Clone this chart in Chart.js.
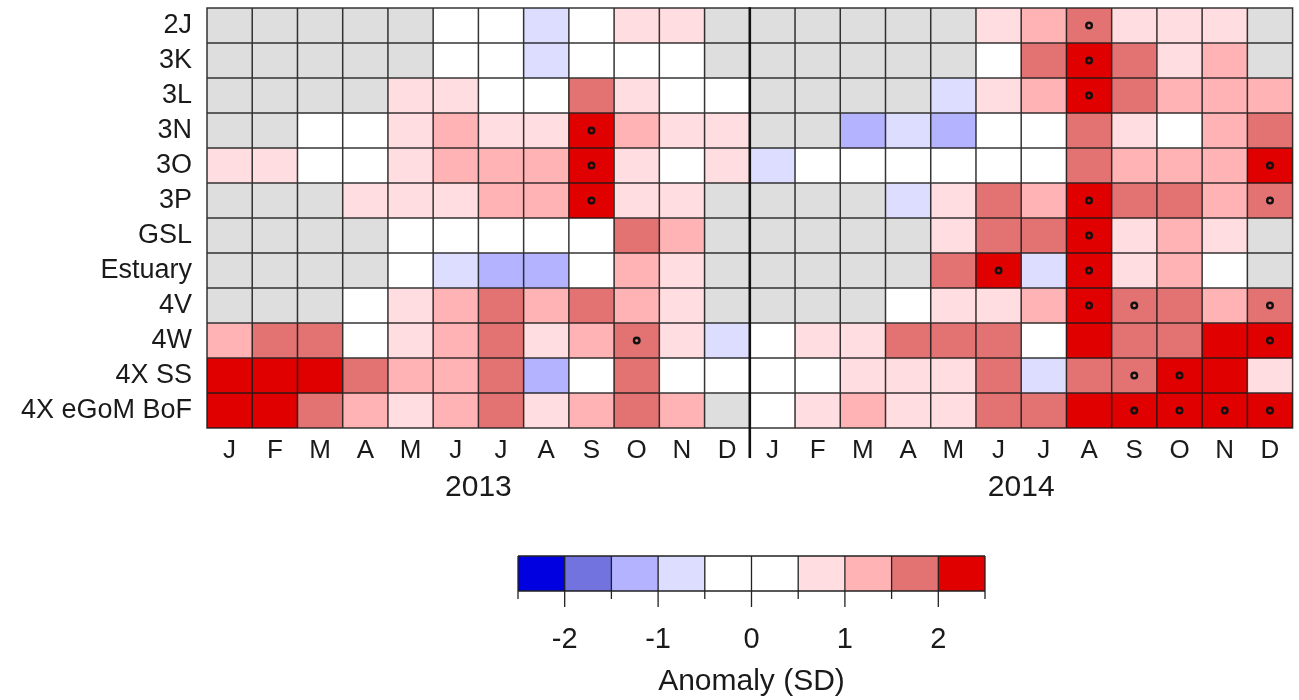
<!DOCTYPE html>
<html>
<head>
<meta charset="utf-8">
<script src="https://cdn.jsdelivr.net/npm/chart.js@4.4.1/dist/chart.umd.min.js"></script>
<style>
  html, body { margin: 0; padding: 0; background: #ffffff; }
  #wrap { position: relative; width: 1299px; height: 700px; overflow: hidden; }
  #heat { position: absolute; left: 0; top: 0; }
  #scaleBar { position: absolute; left: 0; top: 540px; }
</style>
</head>
<body>
<div id="wrap">
  <canvas id="heat" width="1299" height="700"></canvas>
  <canvas id="scaleBar" width="1299" height="160"></canvas>
</div>
<script>
// Monthly anomalies (in standard deviations), January 2013 to December 2014.
// null marks a month without data.
const N = null;
const regions = ['2J', '3K', '3L', '3N', '3O', '3P', 'GSL', 'Estuary', '4V', '4W', '4X SS', '4X eGoM BoF'];
const years = ['2013', '2014'];
const months = ['J', 'F', 'M', 'A', 'M', 'J', 'J', 'A', 'S', 'O', 'N', 'D'];

const r2J      = [N, N, N, N, N, 0, 0, -0.75, 0, 0.75, 0.75, N,   N, N, N, N, N, 0.75, 1.25, 1.75, 0.75, 0.75, 0.75, N];
const r3K      = [N, N, N, N, N, 0, 0, -0.75, 0, 0, 0, N,   N, N, N, N, N, 0, 1.75, 2.25, 1.75, 0.75, 1.25, N];
const r3L      = [N, N, N, N, 0.75, 0.75, 0, 0, 1.75, 0.75, 0, 0,   N, N, N, N, -0.75, 0.75, 1.25, 2.25, 1.75, 1.25, 1.25, 1.25];
const r3N      = [N, N, 0, 0, 0.75, 1.25, 0.75, 0.75, 2.25, 1.25, 0.75, 0.75,   N, N, -1.25, -0.75, -1.25, 0, 0, 1.75, 0.75, 0, 1.25, 1.75];
const r3O      = [0.75, 0.75, 0, 0, 0.75, 1.25, 1.25, 1.25, 2.25, 0.75, 0, 0.75,   -0.75, 0, 0, 0, 0, 0, 0, 1.75, 1.25, 1.25, 1.25, 2.25];
const r3P      = [N, N, N, 0.75, 0.75, 0.75, 1.25, 1.25, 2.25, 0.75, 0.75, N,   N, N, N, -0.75, 0.75, 1.75, 1.25, 2.25, 1.75, 1.75, 1.25, 1.75];
const rGSL     = [N, N, N, N, 0, 0, 0, 0, 0, 1.75, 1.25, N,   N, N, N, N, 0.75, 1.75, 1.75, 2.25, 0.75, 1.25, 0.75, N];
const rEstuary = [N, N, N, N, 0, -0.75, -1.25, -1.25, 0, 1.25, 0.75, N,   N, N, N, N, 1.75, 2.25, -0.75, 2.25, 0.75, 1.25, 0, N];
const r4V      = [N, N, N, 0, 0.75, 1.25, 1.75, 1.25, 1.75, 1.25, 0.75, N,   N, N, N, 0, 0.75, 0.75, 1.25, 2.25, 1.75, 1.75, 1.25, 1.75];
const r4W      = [1.25, 1.75, 1.75, 0, 0.75, 1.25, 1.75, 0.75, 1.25, 1.75, 0.75, -0.75,   0, 0.75, 0.75, 1.75, 1.75, 1.75, 0, 2.25, 1.75, 1.75, 2.25, 2.25];
const r4XSS    = [2.25, 2.25, 2.25, 1.75, 1.25, 1.25, 1.75, -1.25, 0, 1.75, 0, 0,   0, 0, 0.75, 0.75, 0.75, 1.75, -0.75, 1.75, 1.75, 2.25, 2.25, 0.75];
const r4XeGoM  = [2.25, 2.25, 1.75, 1.25, 0.75, 1.25, 1.75, 0.75, 1.25, 1.75, 1.25, N,   0, 0.75, 1.25, 0.75, 0.75, 1.75, 1.75, 2.25, 2.25, 2.25, 2.25, 2.25];

// Significant months: [region, month index 0..23]
const significant = [
  ['2J', 19], ['3K', 19], ['3L', 19], ['3N', 8], ['3O', 8], ['3O', 23],
  ['3P', 8], ['3P', 19], ['3P', 23], ['GSL', 19], ['Estuary', 17], ['Estuary', 19],
  ['4V', 19], ['4V', 20], ['4V', 23], ['4W', 9], ['4W', 23], ['4X SS', 20], ['4X SS', 21],
  ['4X eGoM BoF', 20], ['4X eGoM BoF', 21], ['4X eGoM BoF', 22], ['4X eGoM BoF', 23]
];

// Colour classes of the anomaly scale
const binEdges = [-2.5, -2, -1.5, -1, -0.5, 0, 0.5, 1, 1.5, 2, 2.5];
const binColors = ['#0000E0', '#7373E0', '#B3B3FF', '#DDDDFF', '#FFFFFF', '#FFFFFF', '#FFDDE0', '#FFB3B5', '#E37373', '#E00000'];
const scaleTicks = [-2, -1, 0, 1, 2];
const missingColor = '#DEDEDE';

const rows = [r2J, r3K, r3L, r3N, r3O, r3P, rGSL, rEstuary, r4V, r4W, r4XSS, r4XeGoM];
const FONT = "'Liberation Sans', Arial, Helvetica, sans-serif";
const INK = '#1a1a1a';

function colorFor(v) {
  if (v === null) return missingColor;
  let k = Math.floor((v - binEdges[0]) / 0.5);
  k = Math.max(0, Math.min(binColors.length - 1, k));
  return binColors[k];
}

// unique category keys, one per month of each year
const categories = years.flatMap(y => months.map((m, i) => y + '-' + (i + 1)));

const cellSets = rows.map((vals, ri) => ({
  type: 'bar',
  label: regions[ri],
  data: categories.map(() => [ri, ri + 1]),
  backgroundColor: vals.map(colorFor),
  borderWidth: 0,
  grouped: false,
  barPercentage: 1,
  categoryPercentage: 1,
  order: 2
}));

const markSet = {
  type: 'scatter',
  label: 'significant',
  data: significant.map(([reg, col]) => ({ x: categories[col], y: regions.indexOf(reg) + 0.5 })),
  pointStyle: 'circle',
  pointRadius: 2.8,
  borderWidth: 2.4,
  borderColor: '#111111',
  backgroundColor: 'rgba(0,0,0,0)',
  order: 1
};

// Cell outlines, year divider and year labels
const cellGrid = {
  id: 'cellGrid',
  afterDatasetsDraw(chart) {
    const { ctx, chartArea: a, scales: { x, y } } = chart;
    const colW = x.getPixelForValue(1) - x.getPixelForValue(0);
    const x0 = x.getPixelForValue(0) - colW / 2;
    ctx.save();
    ctx.strokeStyle = 'rgba(25,25,25,0.88)';
    ctx.lineWidth = 1.5;
    ctx.beginPath();
    for (let i = 0; i <= categories.length; i++) {
      if (i === months.length) continue;
      const px = x0 + i * colW;
      ctx.moveTo(px, a.top); ctx.lineTo(px, a.bottom);
    }
    for (let k = 0; k <= regions.length; k++) {
      const py = y.getPixelForValue(k);
      ctx.moveTo(a.left - 0.75, py); ctx.lineTo(a.right + 0.75, py);
    }
    ctx.stroke();
    // divider between the two years
    const pd = x0 + months.length * colW;
    ctx.strokeStyle = '#111111';
    ctx.lineWidth = 2.6;
    ctx.beginPath();
    ctx.moveTo(pd, a.top - 0.75); ctx.lineTo(pd, a.bottom + 30);
    ctx.stroke();
    // year labels centred under each year
    ctx.fillStyle = INK;
    ctx.font = '30px ' + FONT;
    ctx.textAlign = 'center';
    ctx.textBaseline = 'middle';
    years.forEach((yr, j) => {
      const cx = (x.getPixelForValue(j * 12) + x.getPixelForValue(j * 12 + 11)) / 2;
      ctx.fillText(yr, cx, a.bottom + 60);
    });
    ctx.restore();
  }
};

new Chart(document.getElementById('heat'), {
  type: 'bar',
  data: { labels: categories, datasets: [...cellSets, markSet] },
  options: {
    responsive: false,
    animation: false,
    events: [],
    layout: { padding: { left: 0, right: 3, top: 8, bottom: 0 } },
    plugins: { legend: { display: false }, tooltip: { enabled: false } },
    scales: {
      x: {
        type: 'category',
        offset: true,
        grid: { display: false, drawTicks: false },
        border: { display: false },
        ticks: {
          autoSkip: false,
          maxRotation: 0,
          padding: 7,
          color: INK,
          font: { family: FONT, size: 26 },
          callback: (v, i) => months[i % 12]
        },
        afterFit: s => { s.height = 272; s.paddingLeft = 0; s.paddingRight = 0; }
      },
      y: {
        type: 'linear',
        min: 0,
        max: regions.length,
        reverse: true,
        grid: { display: false, drawTicks: false },
        border: { display: false },
        afterBuildTicks: s => { s.ticks = regions.map((_, i) => ({ value: i + 0.5 })); },
        ticks: {
          autoSkip: false,
          padding: 15,
          color: INK,
          font: { family: FONT, size: 27 },
          callback: (v, i) => regions[i]
        },
        afterFit: s => { s.width = 207; s.paddingTop = 0; s.paddingBottom = 0; }
      }
    }
  },
  plugins: [cellGrid]
});

// Colour key: class outlines and tick marks
const keyFrame = {
  id: 'keyFrame',
  afterDatasetsDraw(chart) {
    const { ctx, chartArea: a, scales: { x } } = chart;
    ctx.save();
    ctx.strokeStyle = '#222222';
    ctx.lineWidth = 1.3;
    ctx.beginPath();
    binEdges.forEach(v => {
      const px = x.getPixelForValue(v);
      ctx.moveTo(px, a.top); ctx.lineTo(px, a.bottom);
      const len = scaleTicks.includes(v) ? 16 : 8;
      ctx.moveTo(px, a.bottom); ctx.lineTo(px, a.bottom + len);
    });
    ctx.moveTo(a.left, a.top); ctx.lineTo(a.right, a.top);
    ctx.moveTo(a.left, a.bottom); ctx.lineTo(a.right, a.bottom);
    ctx.stroke();
    ctx.restore();
  }
};

new Chart(document.getElementById('scaleBar'), {
  type: 'bar',
  data: {
    labels: ['key'],
    datasets: binColors.map((c, i) => ({
      data: [[binEdges[i], binEdges[i + 1]]],
      backgroundColor: c,
      borderWidth: 0,
      grouped: false,
      barPercentage: 1,
      categoryPercentage: 1
    }))
  },
  options: {
    indexAxis: 'y',
    responsive: false,
    animation: false,
    events: [],
    layout: { padding: { left: 518, right: 314, top: 16, bottom: 0 } },
    plugins: { legend: { display: false }, tooltip: { enabled: false } },
    scales: {
      y: { display: false },
      x: {
        type: 'linear',
        min: binEdges[0],
        max: binEdges[binEdges.length - 1],
        grid: { display: false, drawTicks: false },
        border: { display: false },
        afterBuildTicks: s => { s.ticks = scaleTicks.map(v => ({ value: v })); },
        ticks: {
          padding: 32,
          color: INK,
          font: { family: FONT, size: 29 },
          callback: v => String(v)
        },
        title: {
          display: true,
          text: 'Anomaly (SD)',
          color: INK,
          font: { family: FONT, size: 30 },
          padding: { top: 0, bottom: 0 }
        },
        afterFit: s => { s.height = 109; s.paddingLeft = 0; s.paddingRight = 0; }
      }
    }
  },
  plugins: [keyFrame]
});
</script>
</body>
</html>
